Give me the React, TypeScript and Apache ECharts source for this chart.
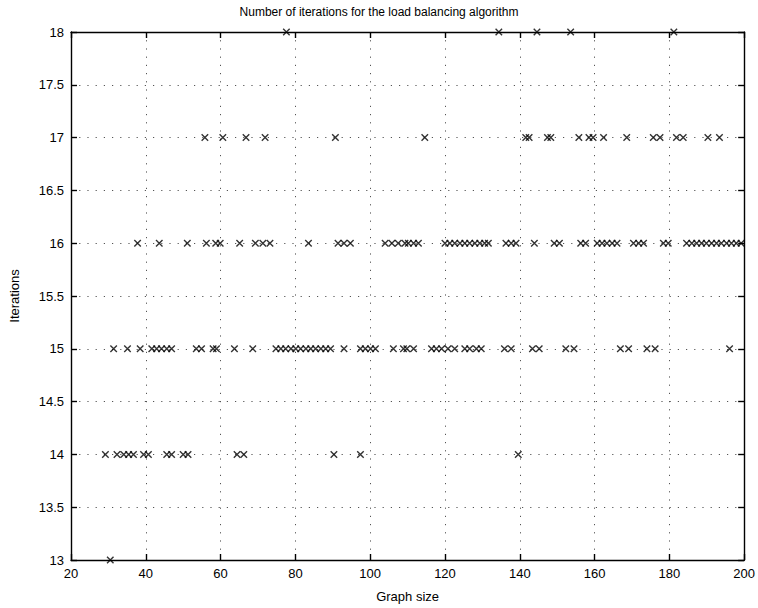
import React, { useEffect, useRef } from "react";
import * as echarts from "echarts";

const titleText = "Number of iterations for the load balancing algorithm";
const xAxisName = "Graph size";
const yAxisName = "Iterations";

// Graph sizes of the runs, grouped by the number of iterations they took
const iter13 = [30.5];
const iter14 = [29.2, 32.3, 34.1, 35.4, 36.7, 39.4, 40.7, 45.6, 46.9, 50, 51.3, 64.4, 66.2, 90.3, 97.4, 139.6];
const iter15 = [
  31.4, 35.1, 38.5, 41.6, 42.9, 44.2, 45.6, 46.9, 53.5, 54.9, 58, 58.9, 63.7, 68.6,
  74.8, 76.1, 77.4, 78.8, 80.1, 81.4, 82.8, 84.1, 85.4, 86.8, 88.1, 89.4, 93,
  97.4, 98.7, 100.1, 101.4, 106.2, 108.9, 109.8, 111.6, 116.4, 117.7, 119.1, 120.8,
  122.6, 125.3, 126.6, 128.4, 129.7, 135.9, 137.7, 143.4, 145.2, 152.3, 154.5,
  166.9, 169.1, 174, 176.2, 196.1,
];
const iter16 = [
  37.8, 43.6, 51.1, 56.2, 58.7, 59.9, 65.1, 69.3, 71.3, 73.2, 83.5, 91.4, 93, 94.7,
  104, 105.8, 107.5, 109.3, 110.2, 111.6, 112.9, 120, 121.3, 122.6, 124, 125.3,
  126.6, 128, 129.3, 130.6, 131.6, 136.3, 137.7, 139, 143.9, 149.2, 150.6, 156.3,
  157.6, 160.7, 162, 163.3, 164.7, 166, 170.4, 171.8, 173.1, 178.4, 179.7, 184.6,
  186, 187.3, 188.6, 189.9, 191.3, 192.6, 193.9, 195.3, 196.6, 197.9, 199.2,
];
const iter17 = [
  55.8, 60.6, 66.8, 71.9, 90.7, 114.6, 141.6, 142.5, 147.4, 148.3, 155.8, 158.5,
  159.6, 162.4, 168.6, 175.7, 177.5, 181.9, 183.7, 190.3, 193.4,
];
const iter18 = [77.6, 134.4, 144.6, 153.6, 181.2];

const groups: [number, number[]][] = [
  [13, iter13],
  [14, iter14],
  [15, iter15],
  [16, iter16],
  [17, iter17],
  [18, iter18],
];

const FONT = "'Liberation Sans', Arial, Helvetica, sans-serif";

export default function App() {
  const ref = useRef<HTMLDivElement>(null);
  useEffect(() => {
    if (!ref.current) return;
    const chart = echarts.init(ref.current, null, { renderer: "svg" });
    const data: number[][] = [];
    groups.forEach(([y, xs]) => xs.forEach((x) => data.push([x, y])));

    const split = { show: true, lineStyle: { type: [1.2, 7] as any, color: "#555", width: 1 } };
    const axisLine = { show: true, onZero: false, lineStyle: { color: "#000", width: 1.4 } };
    const tick = { show: true, inside: true, length: 6, lineStyle: { color: "#000", width: 1.4 } };

    chart.setOption({
      animation: false,
      backgroundColor: "#fff",
      title: {
        text: titleText,
        left: "center",
        top: 1,
        textStyle: { fontFamily: FONT, fontSize: 12, fontWeight: "normal", color: "#000" },
      },
      grid: { left: 67, right: 13, top: 32, bottom: 43 },
      xAxis: [
        {
          type: "value",
          min: 20,
          max: 200,
          interval: 20,
          name: xAxisName,
          nameLocation: "middle",
          nameGap: 30,
          nameTextStyle: { fontFamily: FONT, fontSize: 13, color: "#000" },
          axisLine,
          axisTick: tick,
          axisLabel: { fontFamily: FONT, fontSize: 13, color: "#000", margin: 7 },
          splitLine: split,
        },
        {
          type: "value",
          position: "top",
          min: 20,
          max: 200,
          interval: 20,
          axisLine,
          axisTick: tick,
          axisLabel: { show: false },
          splitLine: { show: false },
        },
      ],
      yAxis: [
        {
          type: "value",
          min: 13,
          max: 18,
          interval: 0.5,
          name: yAxisName,
          nameLocation: "middle",
          nameGap: 50,
          nameTextStyle: { fontFamily: FONT, fontSize: 13, color: "#000" },
          axisLine,
          axisTick: tick,
          axisLabel: { fontFamily: FONT, fontSize: 13, color: "#000", margin: 7 },
          splitLine: split,
        },
        {
          type: "value",
          position: "right",
          min: 13,
          max: 18,
          interval: 0.5,
          axisLine,
          axisTick: tick,
          axisLabel: { show: false },
          splitLine: { show: false },
        },
      ],
      series: [
        {
          type: "scatter",
          xAxisIndex: 0,
          yAxisIndex: 0,
          data,
          symbol: "path://M0,0L10,10M10,0L0,10",
          symbolSize: 6.5,
          itemStyle: { color: "none", borderColor: "#000", borderWidth: 1.4 },
          emphasis: { disabled: true },
          clip: false,
        },
      ],
    });
    return () => chart.dispose();
  }, []);
  return <div ref={ref} style={{ width: 758, height: 608, position: "absolute", left: 0, top: 0 }} />;
}
